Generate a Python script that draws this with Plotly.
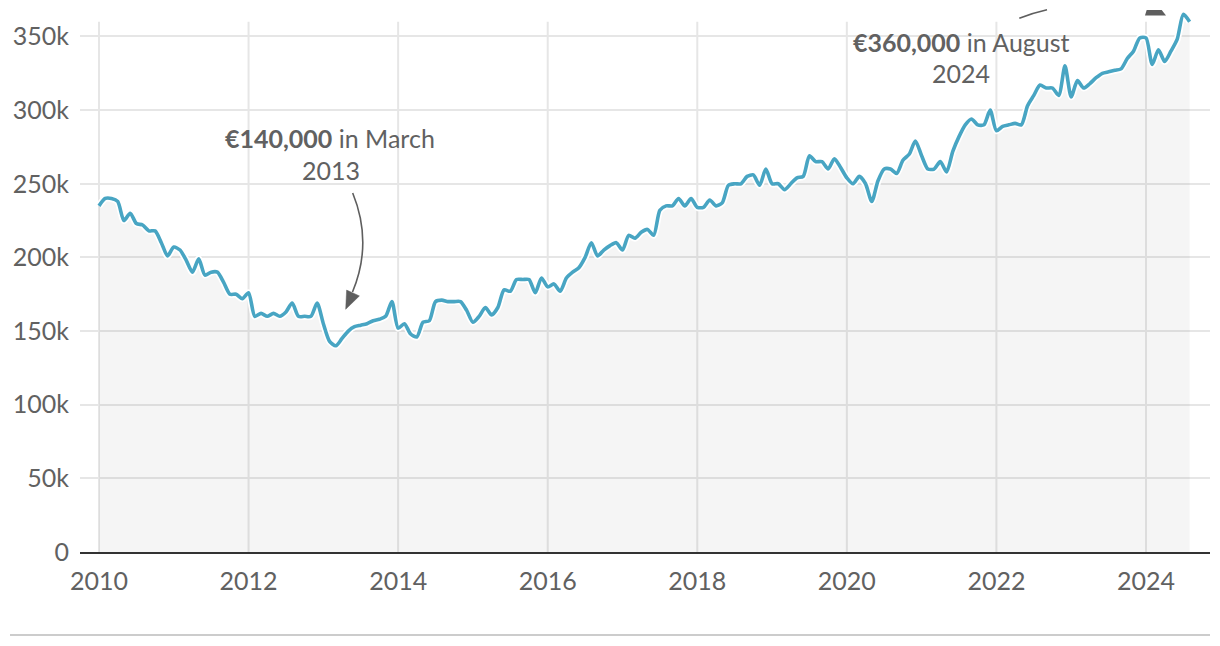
import plotly.graph_objects as go
import pandas as pd

# ---------------- data (monthly, thousands of euro) ----------------
start_month = "2010-01"
end_month = "2024-08"
values_k = [
    # 2010
    235, 240, 240, 238, 225, 230, 223, 222, 218, 218, 210, 201,
    # 2011
    207, 205, 198, 190, 199, 188, 190, 190, 183, 175, 175, 172,
    # 2012
    176, 160, 162, 160, 162, 160, 163, 169, 160, 160, 160, 169,
    # 2013
    155, 143, 140, 145, 150, 153, 154, 155, 157, 158, 160, 170,
    # 2014
    152, 155, 148, 146, 156, 157, 170, 171, 170, 170, 170, 164,
    # 2015
    156, 160, 166, 161, 166, 178, 177, 185, 185, 185, 176, 186,
    # 2016
    180, 182, 177, 186, 190, 193, 200, 210, 201, 205, 208, 210,
    # 2017
    205, 215, 213, 217, 219, 215, 232, 235, 235, 240, 235, 240,
    # 2018
    234, 234, 239, 235, 237, 249, 250, 250, 255, 256, 249, 260,
    # 2019
    250, 250, 246, 250, 254, 255, 269, 265, 265, 260, 267, 261,
    # 2020
    254, 250, 255, 250, 238, 252, 260, 260, 257, 266, 270, 279,
    # 2021
    269, 260, 260, 265, 258, 272, 282, 290, 294, 290, 290, 300,
    # 2022
    286, 289, 290, 291, 290, 303, 310, 317, 315, 315, 310, 330,
    # 2023
    309, 320, 315, 318, 322, 325, 326, 327, 328, 335, 340, 349,
    # 2024
    349, 331, 341, 333, 340, 348, 365, 360,
]
y_tick_vals = [0, 50000, 100000, 150000, 200000, 250000, 300000, 350000]
y_tick_text = ["0", "50k", "100k", "150k", "200k", "250k", "300k", "350k"]
x_tick_years = [2010, 2012, 2014, 2016, 2018, 2020, 2022, 2024]

months = pd.date_range(start_month, end_month, freq="MS")
x_vals = [d.year + (d.month - 1) / 12 for d in months]
y_vals = [v * 1000 for v in values_k]

# ---------------- layout geometry ----------------
W, H = 1220, 646
ML, MR, MT, MB = 80, 10, 7, 94
X0, X1 = 2009.746, 2024.856
Y0, Y1 = 0, 370000
PW, PH = W - ML - MR, H - MT - MB


def px_x(px):
    return X0 + (px - ML) / PW * (X1 - X0)


def px_y(py):
    return Y0 + (H - MB - py) / PH * (Y1 - Y0)


LINE = "#48a5c3"
GRID = "#e6e6e6"
TXT = "#616161"
ARROW = "#5e5e5e"
FONT = "Lato, 'Open Sans', sans-serif"
FS = 25

fig = go.Figure()

# white halo + fill
fig.add_trace(go.Scatter(
    x=x_vals, y=y_vals, mode="lines",
    line=dict(color="white", width=7, shape="spline", smoothing=0.7),
    fill="tozeroy", fillcolor="rgba(0,0,0,0.04)",
    hoverinfo="skip", showlegend=False,
))
# main line
fig.add_trace(go.Scatter(
    x=x_vals, y=y_vals, mode="lines",
    line=dict(color=LINE, width=3.6, shape="spline", smoothing=0.7),
    showlegend=False, name="Price",
))

shapes = []
# vertical gridlines (stop at 360k like the reference)
for yr in x_tick_years:
    shapes.append(dict(type="line", xref="x", yref="y", x0=yr, x1=yr, y0=0, y1=360000,
                       line=dict(color=GRID, width=2), layer="below"))

# bottom rule
shapes.append(dict(type="line", xref="paper", yref="paper",
                   x0=(10 - ML) / PW, x1=1.0,
                   y0=(H - MB - 635) / PH, y1=(H - MB - 635) / PH,
                   line=dict(color="#cccccc", width=2)))


def pt(px, py):
    return f"{px_x(px)},{px_y(py)}"


# curved arrow 1
shapes.append(dict(type="path", xref="x", yref="y",
                   path=f"M {pt(352.7, 193)} Q {pt(373, 243)} {pt(352.5, 292)}",
                   line=dict(color=ARROW, width=1.6)))
shapes.append(dict(type="path", xref="x", yref="y",
                   path=f"M {pt(345.7, 309.3)} L {pt(359.4, 295.9)} L {pt(346.6, 290.1)} Z",
                   line=dict(color=ARROW, width=0.5), fillcolor=ARROW))
# arrow 2 (partly outside the visible area)
shapes.append(dict(type="path", xref="x", yref="y",
                   path=f"M {pt(1019.3, 18.3)} Q {pt(1032, 13.2)} {pt(1047, 9.8)}",
                   line=dict(color=ARROW, width=1.6)))
shapes.append(dict(type="path", xref="x", yref="y",
                   path=f"M {pt(1146.7, 10)} L {pt(1161.7, 10)} L {pt(1166, 15.5)} L {pt(1145, 15.5)} Z",
                   line=dict(color=ARROW, width=0), fillcolor=ARROW))

ann_font = dict(family=FONT, size=FS, color=TXT)
annotations = [
    dict(x=px_x(330), y=px_y(137.5), xref="x", yref="y",
         text="<b>€140,000</b> in March", showarrow=False, font=ann_font,
         xanchor="center", yanchor="middle"),
    dict(x=px_x(331), y=px_y(169.5), xref="x", yref="y",
         text="2013", showarrow=False, font=ann_font,
         xanchor="center", yanchor="middle"),
    dict(x=px_x(961), y=px_y(42), xref="x", yref="y",
         text="<b>€360,000</b> in August", showarrow=False, font=ann_font,
         xanchor="center", yanchor="middle"),
    dict(x=px_x(961), y=px_y(72.5), xref="x", yref="y",
         text="2024", showarrow=False, font=ann_font,
         xanchor="center", yanchor="middle"),
]

fig.update_layout(
    width=W, height=H,
    margin=dict(l=ML, r=MR, t=MT, b=MB),
    paper_bgcolor="white", plot_bgcolor="white",
    font=dict(family=FONT, size=FS, color=TXT),
    shapes=shapes, annotations=annotations,
    showlegend=False,
    xaxis=dict(
        range=[X0, X1], tickmode="array", tickvals=x_tick_years,
        ticktext=[str(y) for y in x_tick_years],
        showgrid=False, zeroline=False, ticks="",
        showline=True, linecolor="#333333", linewidth=2,
        ticklabelstandoff=6, tickfont=dict(size=FS, color=TXT),
        fixedrange=True,
    ),
    yaxis=dict(
        range=[Y0, Y1], tickmode="array", tickvals=y_tick_vals, ticktext=y_tick_text,
        showgrid=True, gridcolor=GRID, gridwidth=2, zeroline=False, ticks="",
        showline=False, ticklabelstandoff=10, tickfont=dict(size=FS, color=TXT),
        fixedrange=True,
    ),
)

fig.write_html("out.html")
